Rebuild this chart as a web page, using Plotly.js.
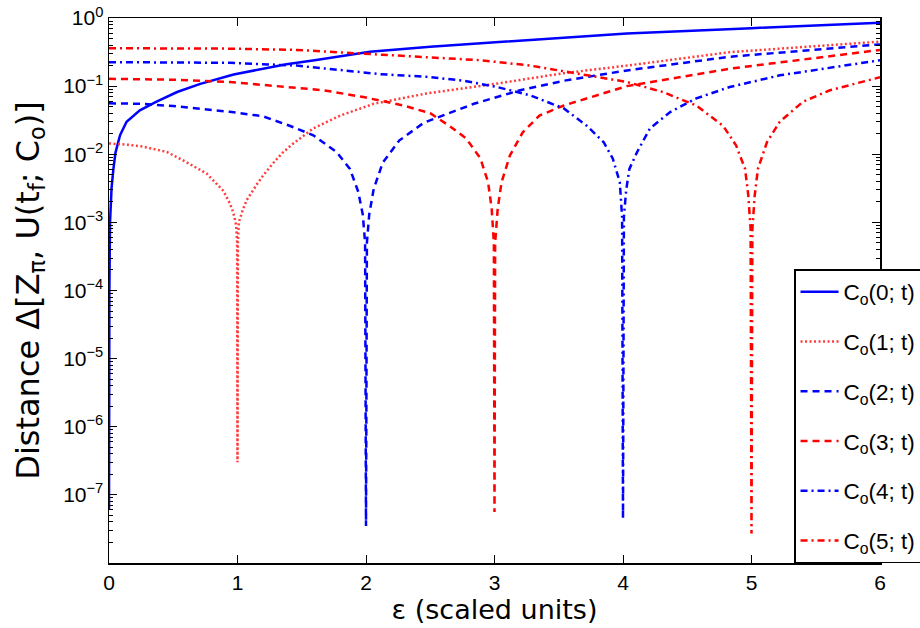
<!DOCTYPE html>
<html>
<head>
<meta charset="utf-8">
<script src="https://cdn.plot.ly/plotly-3.0.1.min.js"></script>
<style>html,body{margin:0;padding:0;background:#fff;}#chart{width:920px;height:628px;}</style>
</head>
<body>
<div id="chart"></div>
<script>
// ---- data ----
const seriesNames = ['C<sub>o</sub>(0; t)', 'C<sub>o</sub>(1; t)', 'C<sub>o</sub>(2; t)', 'C<sub>o</sub>(3; t)', 'C<sub>o</sub>(4; t)', 'C<sub>o</sub>(5; t)'];

const x0 = [0.00002, 0.0003, 0.001, 0.003, 0.008, 0.02, 0.034, 0.05, 0.086, 0.137, 0.24, 0.37, 0.53, 0.71, 0.97, 1.23, 1.38, 1.6, 2.03, 2.5, 3.28, 4.03, 5.0, 6.0];
const y0 = [6e-8, 1e-6, 1.2e-5, 1e-4, 1e-3, 3.2e-3, 6e-3, 0.0105, 0.019, 0.030, 0.044, 0.059, 0.082, 0.108, 0.148, 0.185, 0.21, 0.24, 0.32, 0.38, 0.47, 0.59, 0.71, 0.85];

const x1 = [0, 0.15, 0.27, 0.45, 0.60, 0.76, 0.89, 0.94, 0.967, 0.99, 0.997, 1.0, 1.003, 1.01, 1.04, 1.07, 1.15, 1.2, 1.28, 1.35, 1.43, 1.5, 1.59, 1.8, 2.06, 2.47, 3.02, 3.54, 4.03, 4.83, 6.0];
const y1 = [0.0144, 0.0138, 0.0129, 0.0108, 0.0077, 0.0052, 0.0029, 0.0019, 0.0014, 9e-4, 5e-4, 3e-7, 5e-4, 1e-3, 0.0015, 0.0021, 0.0036, 0.0049, 0.0075, 0.0105, 0.0142, 0.018, 0.024, 0.037, 0.055, 0.078, 0.109, 0.155, 0.20, 0.315, 0.45];

const x2 = [0, 0.25, 0.5, 0.75, 0.94, 1.2, 1.41, 1.59, 1.77, 1.875, 1.94, 1.975, 1.993, 2.0, 2.007, 2.025, 2.06, 2.13, 2.26, 2.45, 2.84, 3.2, 3.54, 4.03, 4.83, 6.0];
const y2 = [0.056, 0.055, 0.051, 0.046, 0.042, 0.036, 0.026, 0.019, 0.0108, 0.0061, 0.0028, 0.0013, 5e-4, 3.5e-8, 5e-4, 0.0013, 0.0031, 0.0075, 0.016, 0.029, 0.055, 0.087, 0.12, 0.17, 0.27, 0.41];

const x3 = [0, 0.5, 0.94, 1.33, 1.67, 1.98, 2.29, 2.5, 2.65, 2.78, 2.89, 2.95, 2.978, 2.995, 3.0, 3.005, 3.025, 3.055, 3.12, 3.22, 3.35, 3.54, 3.8, 4.03, 4.83, 6.0];
const y3 = [0.128, 0.124, 0.115, 0.10, 0.087, 0.069, 0.052, 0.040, 0.026, 0.017, 0.0087, 0.0039, 0.0016, 5e-4, 5.6e-8, 5e-4, 0.0016, 0.0039, 0.0096, 0.021, 0.037, 0.052, 0.073, 0.10, 0.18, 0.34];

const x4 = [0, 0.5, 0.94, 1.46, 1.85, 2.11, 2.47, 2.76, 3.02, 3.28, 3.54, 3.72, 3.85, 3.92, 3.975, 3.993, 4.0, 4.007, 4.025, 4.05, 4.11, 4.21, 4.37, 4.57, 4.83, 5.22, 6.0];
const y4 = [0.225, 0.223, 0.22, 0.20, 0.17, 0.15, 0.137, 0.12, 0.097, 0.073, 0.047, 0.026, 0.015, 0.0087, 0.0039, 0.0012, 4.4e-8, 0.0012, 0.003, 0.0061, 0.0108, 0.024, 0.042, 0.066, 0.097, 0.144, 0.24];

const x5 = [0, 0.5, 0.94, 1.46, 1.98, 2.47, 2.89, 3.28, 3.67, 4.03, 4.31, 4.57, 4.78, 4.88, 4.95, 4.975, 4.993, 5.0, 5.007, 5.025, 5.05, 5.12, 5.22, 5.40, 5.61, 6.0];
const y5 = [0.36, 0.358, 0.355, 0.34, 0.30, 0.27, 0.24, 0.20, 0.15, 0.115, 0.082, 0.052, 0.026, 0.0135, 0.0061, 0.0025, 8e-4, 2.7e-8, 8e-4, 0.0025, 0.0061, 0.015, 0.030, 0.059, 0.087, 0.135];

const xTickVals = [0, 1, 2, 3, 4, 5, 6];
const xTickText = ['0', '1', '2', '3', '4', '5', '6'];
const yTickVals = [1e-7, 1e-6, 1e-5, 1e-4, 1e-3, 1e-2, 1e-1, 1e0];
const yTickText = ['10<sup>−7</sup>', '10<sup>−6</sup>', '10<sup>−5</sup>', '10<sup>−4</sup>', '10<sup>−3</sup>', '10<sup>−2</sup>', '10<sup>−1</sup>', '10<sup>0</sup>'];

// ---- styles ----
const styles = [
  {color: '#0000ff', dash: 'solid', width: 2.5},
  {color: '#ff3b3b', dash: '2px,2.5px', width: 2.5},
  {color: '#0000ff', dash: '7px,5px', width: 2.5},
  {color: '#ff0000', dash: '7px,5px', width: 2.5},
  {color: '#0000ff', dash: '7px,4px,2px,4px', width: 2.5},
  {color: '#ff0000', dash: '7px,4px,2px,4px', width: 2.5}
];
const xs = [x0, x1, x2, x3, x4, x5];
const ys = [y0, y1, y2, y3, y4, y5];

const traces = xs.map((xx, i) => ({
  x: xx, y: ys[i], type: 'scatter', mode: 'lines',
  name: seriesNames[i], legendgroup: 'g' + i,
  line: {color: styles[i].color, dash: styles[i].dash, width: styles[i].width},
  hoverinfo: 'skip'
}));

// minor tick positions on log axis (2..9 per decade)
const minorVals = [];
for (let k = -8; k < 0; k++) for (let m = 2; m <= 9; m++) minorVals.push(m * Math.pow(10, k));

const tickFont = {family: 'Liberation Sans, Arial, sans-serif', size: 21, color: '#000'};

const layout = {
  width: 920, height: 628,
  paper_bgcolor: '#fff', plot_bgcolor: '#fff',
  margin: {l: 109, r: 40, t: 18, b: 65, autoexpand: false},
  showlegend: true,
  xaxis: {
    range: [0, 6], tickmode: 'array', tickvals: xTickVals, ticktext: xTickText,
    ticks: 'inside', ticklen: 8, tickwidth: 1, tickcolor: '#000',
    mirror: 'ticks', showline: true, linecolor: '#000', linewidth: 1.5,
    showgrid: false, zeroline: false, tickfont: tickFont, automargin: false,
    title: {text: 'ε (scaled units)', font: {family: 'DejaVu Sans, sans-serif', size: 27, color: '#000'}, standoff: 4}
  },
  yaxis: {
    type: 'log', range: [-8, 0], tickmode: 'array', tickvals: yTickVals, ticktext: yTickText,
    ticks: 'inside', ticklen: 8, tickwidth: 1, tickcolor: '#000',
    mirror: 'ticks', showline: true, linecolor: '#000', linewidth: 1.5,
    showgrid: false, zeroline: false, tickfont: tickFont, automargin: false,
    minor: {tickmode: 'array', tickvals: minorVals, ticks: 'inside', ticklen: 4, tickcolor: '#000', showgrid: false},
    title: {text: 'Distance Δ[Z<sub>π</sub>, U(t<sub>f</sub>; C<sub>o</sub>)]', font: {family: 'DejaVu Sans, sans-serif', size: 32, color: '#000'}, standoff: 14}
  },
  legend: {
    x: 0.8885, xanchor: 'left', y: 0, yanchor: 'bottom',
    bgcolor: '#fff', bordercolor: '#000', borderwidth: 1.5,
    font: {family: 'Liberation Sans, Arial, sans-serif', size: 22.5, color: '#000'},
    traceorder: 'grouped', tracegroupgap: 17.5, itemwidth: 38
  }
};

Plotly.newPlot('chart', traces, layout, {displayModeBar: false, staticPlot: true});
</script>
</body>
</html>
